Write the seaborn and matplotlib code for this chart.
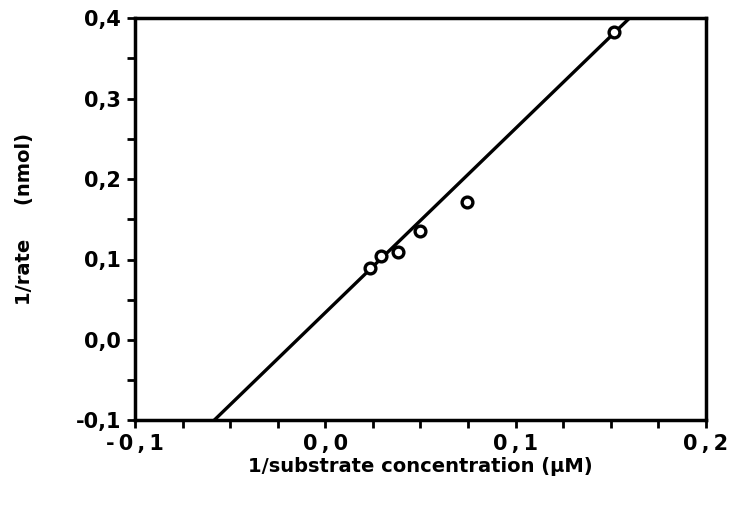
import numpy as np
import pandas as pd
import matplotlib
matplotlib.use("Agg")
import matplotlib.pyplot as plt
import seaborn as sns
from matplotlib.ticker import MultipleLocator, FixedLocator

# data
inv_substrate = [0.0235, 0.0292, 0.038, 0.050, 0.0744, 0.1517]
inv_rate = [0.089, 0.104, 0.109, 0.135, 0.171, 0.383]

# fitted line (Lineweaver-Burk)
fit_slope = 2.29
fit_intercept = 0.034

xtick_vals = [-0.1, 0.0, 0.1, 0.2]
xtick_labels = ["-\u20090\u2009,\u20091", "0\u2009,\u20090", "0\u2009,\u20091", "0\u2009,\u20092"]
ytick_vals = [-0.1, 0.0, 0.1, 0.2, 0.3, 0.4]
ytick_labels = ["-0,1", "0,0", "0,1", "0,2", "0,3", "0,4"]

sns.set_style("ticks")
plt.rcParams['font.family'] = ['DejaVu Sans']
plt.rcParams['text.color'] = 'black'
plt.rcParams['axes.labelcolor'] = 'black'
plt.rcParams['xtick.color'] = 'black'
plt.rcParams['ytick.color'] = 'black'

df = pd.DataFrame({"x": inv_substrate, "y": inv_rate})
line_x = np.array([-0.1, 0.2])
line_df = pd.DataFrame({"x": line_x, "y": fit_intercept + fit_slope * line_x})

fig, ax = plt.subplots(figsize=(7.3, 5.19), dpi=100)
fig.subplots_adjust(left=0.185, right=0.967, top=0.965, bottom=0.19)

sns.lineplot(data=line_df, x="x", y="y", ax=ax, color="black", linewidth=2.4)
sns.scatterplot(data=df, x="x", y="y", ax=ax, marker="o", s=60,
                facecolor="white", edgecolor="black", linewidth=2.4, zorder=3)

ax.set_xlim(-0.1, 0.2)
ax.set_ylim(-0.1, 0.4)
ax.xaxis.set_major_locator(FixedLocator(xtick_vals))
ax.xaxis.set_minor_locator(MultipleLocator(0.025))
ax.yaxis.set_major_locator(FixedLocator(ytick_vals))
ax.yaxis.set_minor_locator(MultipleLocator(0.05))
ax.set_xticklabels(xtick_labels, fontsize=15, fontweight="bold")
ax.set_yticklabels(ytick_labels, fontsize=15, fontweight="bold")
ax.tick_params(which="both", direction="out", width=2, length=6, color="black")
ax.tick_params(axis="x", pad=4)
ax.tick_params(axis="y", pad=4)

for sp in ax.spines.values():
    sp.set_linewidth(2.5)
    sp.set_color("black")

ax.set_xlabel("1/substrate concentration (µM)", fontsize=14, fontweight="bold", labelpad=2)
ax.set_ylabel("1/rate     (nmol)", fontsize=14, fontweight="bold", labelpad=30)

fig.savefig("out.png", dpi=100)
